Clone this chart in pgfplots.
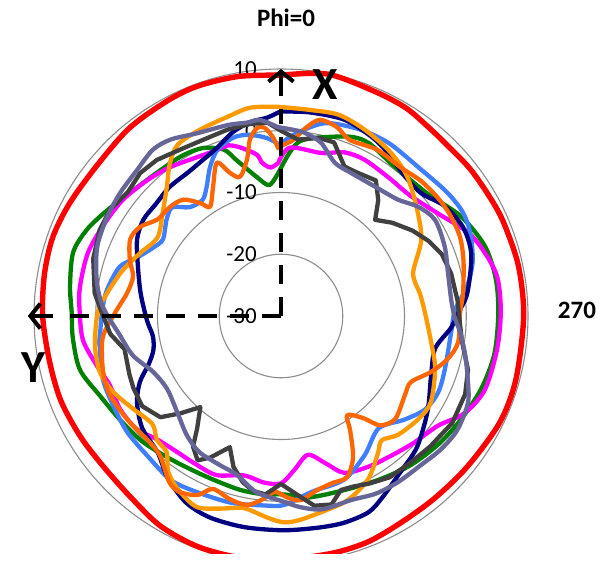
\documentclass[border=0pt]{standalone}
\usepackage{pgfplots}
\pgfplotsset{compat=1.18}
\usepgfplotslibrary{polar}
\usepackage{pgfplotstable}
\usetikzlibrary{arrows.meta}
\usepackage{fontspec}
\setmainfont{Carlito}

\definecolor{cred}{HTML}{FF0000}
\definecolor{cgreen}{HTML}{008000}
\definecolor{cmag}{HTML}{FF00FF}
\definecolor{cblue}{HTML}{3F7FFF}
\definecolor{cnavy}{HTML}{000080}
\definecolor{cgray}{HTML}{404040}
\definecolor{cslate}{HTML}{666699}
\definecolor{corange}{HTML}{FF9900}
\definecolor{cdorange}{HTML}{FF6600}
\definecolor{cgrid}{HTML}{8C8C8C}

% phi in degrees (0 = top, counter-clockwise, 270 = right), gain in dB
\pgfplotstableread{
phi db
0 9.0
10 9.4
20 9.6
28 9.4
39 9.1
51 8.5
62 8.8
71 9.1
80 8.9
90 8.6
101 8.2
111 8.2
121 7.9
130 7.7
140 8.1
150 9.2
160 9.7
170 9.7
180 9.5
192 9.3
201 9.2
210 8.7
220 8.6
231 8.8
244 9.4
255 9.4
270 9.3
282 9.3
293 9.1
300 8.9
308 8.8
316 8.6
322 8.8
329 9.3
337 9.4
349 9.9
360 9.0
}\tabred

\pgfplotstableread{
phi db
0.4 -6.3
5 -8.7
10 -7.1
16 -3.7
19 -1.5
25 0.0
32 0.5
41 0.7
51 1.6
59 3.0
66 4.4
73 5.2
82 4.5
89 3.9
96 3.9
105 3.7
114 2.0
123 1.0
132 0.3
142 -0.7
154 -1.3
166 -1.1
174 -1.0
181 -1.1
189 -0.3
200 0.0
211 0.9
221 2.0
231 2.9
240 3.6
250 4.5
260 5.1
271 5.2
280 5.3
289 4.9
299 3.3
310 0.9
323 0.4
333 1.4
339 1.1
349 -0.6
354 -1.6
357 -3.5
360.4 -6.3
}\tabgreen

\pgfplotstableread{
phi db
1 -5.2
4 -5.9
7 -5.0
8.5 -3.6
13 -2.1
17 -1.1
21 -1.2
28 -0.9
37 0.1
45 0.9
54 1.8
63 2.3
72 2.9
82 2.9
89 2.6
97 2.3
105 0.9
112 -0.1
120 0.1
128 -0.3
135 -1.7
143 -2.3
151 -2.3
158 -2.2
167 -3.5
174 -2.9
180 -2.9
185 -5.0
191 -7.1
197 -5.0
202 -2.6
210 -1.8
217 -1.3
226 -0.3
235 1.0
242 3.6
250 5.1
261 5.4
271 5.6
280 5.6
287 4.6
294 3.2
303 0.4
313 -1.4
322 -1.6
332 -1.3
339 -1.6
346 -2.8
357 -2.7
361 -5.2
}\tabmag

\pgfplotstableread{
phi db
0.3 -2.3
4.5 -1.1
10 -0.2
15 -0.1
21 -1.2
25.5 -3.3
30 -5.9
34 -7.3
40 -7.0
45 -5.1
50 -5.8
57 -7.2
62 -6.5
68 -4.8
73 -2.7
81.5 -1.5
89 -1.0
99 -0.3
109.5 0.6
118 0.8
127 1.2
136 1.3
146 2.0
154.5 1.6
165 1.3
175 0.8
181 0.6
190 -1.1
201 -1.6
211 -3.7
221 -5.9
230 -3.9
237 -2.2
244 -1.7
252 -2.1
265 -2.3
272 -1.8
279 0.5
286 2.3
294 3.5
300 3.9
307 3.5
317 2.8
328 3.0
337 2.8
346 2.2
351 1.0
357 -0.9
360.3 -2.3
}\tabblue

\pgfplotstableread{
phi db
0.3 3.1
4 2.2
9 1.8
14.6 0.8
21 -0.9
28 -1.9
33 -2.3
41 -2.4
48 -2.8
55 -2.8
62 -3.6
71 -5.5
81 -7.0
92 -8.3
99 -9.0
105 -8.6
110 -7.2
115 -4.8
121 -2.8
129 -1.1
138 -0.2
145 2.0
153 3.9
160.5 4.6
170 4.7
180.5 4.7
190 4.8
197 5.0
204 4.8
209 3.7
217 1.9
226 0.6
237 -1.7
248 -3.8
258 -4.5
266 -2.4
271 -1.3
277 0.4
288 2.4
296 2.8
304 1.9
311 0.2
318 0.2
327 1.6
333 2.5
342 3.4
352 3.3
360.3 3.1
}\tabnavy

\pgfplotstableread{
phi db
0 0.0
4 1.4
9 1.5
16 1.4
24 1.2
31 1.5
38.5 2.3
44.6 2.5
51 1.9
58 2.6
64.6 2.5
73 1.8
83 0.4
89 -1.0
96 -2.2
102 -4.1
111 -3.7
116 -3.4
123 -3.2
130 -4.5
134 -7.3
138.5 -10.3
143.4 -7.2
146 -4.5
150 -3.0
153.5 -4.4
158.7 -7.2
162.5 -4.4
167 -2.4
171 -1.3
175 -1.0
180 -2.8
185 -1.0
190 1.2
195 1.6
199 -0.2
203 0.0
208 0.7
214 1.5
222 1.7
229 2.1
238 2.7
247 2.4
254 1.5
262 -0.4
269 -1.1
275 -1.3
284 -1.6
291 -2.1
297 -3.2
303 -4.6
310 -6.5
315.6 -8.2
320 -5.5
325 -3.2
332 -3.7
337 -3.7
343 -0.6
348 -0.5
354.5 -1.3
360 0.0
}\tabgray

\pgfplotstableread{
phi db
1 0.6
6 1.9
10 1.8
15.5 2.1
25 2.6
32 3.7
37.6 4.0
44.6 3.2
52.6 2.8
60.4 2.4
69.4 1.8
79 0.4
87 -1.1
96.7 -3.7
105 -5.2
113.6 -7.4
122.6 -8.1
132.7 -7.1
141.7 -5.4
149 -4.3
157.7 -3.9
164.5 -3.3
172 -1.2
181 0.1
185.7 1.1
192 2.0
201 1.9
208 2.6
215 2.9
223 3.1
230 3.7
237 4.0
245 3.4
251 2.0
258 0.5
265 -0.9
269 -1.8
275 -2.3
284 -2.1
293 -1.2
302 -0.6
308.5 -1.6
315 -3.3
324 -4.1
334 -4.2
340.6 -3.7
347 -1.2
352.5 -0.1
356 0.2
361 0.6
}\tabslate

\pgfplotstableread{
phi db
1 3.9
8.5 4.1
15 3.4
23.5 2.9
31 2.4
36 0.6
41.5 -2.1
49 -4.6
57.5 -6.3
66 -5.0
74 -3.3
82.5 -1.6
89 -0.3
99 0.5
107 0.7
114 -0.1
122 -1.7
130 -2.8
135 -1.6
140 -1.2
144 1.1
149 2.6
156 3.8
162 2.8
169 1.7
176 2.7
180.6 3.4
185 3.2
193 2.3
200 1.7
208 0.0
215 -2.7
219 -4.1
224.5 -3.0
233 -2.2
240 -2.0
251 -3.6
260 -5.3
271.6 -6.7
279 -7.2
288 -7.5
299 -4.0
311 -1.3
319 0.7
327 2.0
336 3.1
344 3.9
352 3.7
361 3.9
}\taborange

\pgfplotstableread{
phi db
1 -2.8
2.6 -1.0
5 0.6
7.3 0.7
10 -1.0
12.3 -4.1
16.4 -6.5
19.6 -5.4
22.7 -3.1
27.8 -6.4
33 -8.9
35.6 -7.5
40 -5.4
45.5 -4.8
52 -4.6
57.7 -3.0
63 -2.6
69.7 -3.9
75 -5.2
81.5 -4.8
89 -3.1
97 -0.9
107.5 0.2
115 0.5
124 0.0
132.6 -0.5
139 -0.1
146 2.4
150 2.9
155 2.0
158.5 0.1
164.4 0.8
169.8 1.1
174.4 -0.2
178 -1.5
182 -0.6
186 0.0
191.7 -1.2
197.3 -1.7
202.3 -1.8
207 -4.3
211.2 -8.4
213.7 -10.7
218.8 -8.8
222.2 -6.1
228 -5.1
237.5 -6.2
243 -6.4
249.5 -4.1
255.6 -2.1
261.6 -1.0
271 -1.0
277 -0.3
287 0.9
294 1.7
301 1.9
307 1.8
314 1.5
321 0.9
330 1.1
338.6 0.6
343.5 1.9
348.7 2.4
352.2 0.9
356 -1.4
359.3 -2.3
361 -2.8
}\tabdorange

\begin{document}
\begin{tikzpicture}
\path[use as bounding box] (-281pt,-250pt) rectangle (329pt,316pt);
\begin{scope}
\clip (-281pt,-237pt) rectangle (329pt,316pt);
\begin{polaraxis}[
  at={(0pt,0pt)}, anchor=center,
  scale only axis, width=494pt, height=494pt,
  xmin=90, xmax=450, ymin=0, ymax=40,
  clip=false,
  xtick=\empty,
  ytick={0,10,20,30,40},
  yticklabels={-30,-20,-10,0,10},
  ymajorgrids,
  grid style={color=cgrid, line width=1.1pt},
  axis line style={draw=none},
  major tick length=0pt,
  yticklabel style={font=\fontsize{23}{23}\selectfont, anchor=east, inner sep=0pt, xshift=-24pt},
  every axis plot/.append style={line join=round, line cap=round},
]
\addplot[cred, line width=5.4pt, smooth] table[x expr=\thisrow{phi}+90, y expr=\thisrow{db}+30] {\tabred};
\addplot[cgreen, line width=4.3pt, smooth] table[x expr=\thisrow{phi}+90, y expr=\thisrow{db}+30] {\tabgreen};
\addplot[cmag, line width=4.3pt, smooth] table[x expr=\thisrow{phi}+90, y expr=\thisrow{db}+30] {\tabmag};
\addplot[cblue, line width=4.3pt, smooth] table[x expr=\thisrow{phi}+90, y expr=\thisrow{db}+30] {\tabblue};
\addplot[cnavy, line width=4.3pt, smooth] table[x expr=\thisrow{phi}+90, y expr=\thisrow{db}+30] {\tabnavy};
\addplot[corange, line width=4.3pt, smooth] table[x expr=\thisrow{phi}+90, y expr=\thisrow{db}+30] {\taborange};
\addplot[cdorange, line width=4.3pt, smooth] table[x expr=\thisrow{phi}+90, y expr=\thisrow{db}+30] {\tabdorange};
\addplot[cgray, line width=4.3pt] table[x expr=\thisrow{phi}+90, y expr=\thisrow{db}+30] {\tabgray};
\addplot[cslate, line width=4.3pt, smooth] table[x expr=\thisrow{phi}+90, y expr=\thisrow{db}+30] {\tabslate};
% dashed X and Y arrows
\addplot[black, line width=4.6pt, line cap=butt, dash pattern=on 19pt off 13pt] coordinates {(90,0) (90,33.6)};
\addplot[black, line width=4.6pt, line cap=butt, dash pattern=on 19pt off 13pt] coordinates {(180,0) (180,34.8)};
\addplot[black, line width=4.6pt, line cap=butt, -{Straight Barb[length=10pt,width=25pt,line width=4pt]}] coordinates {(90,35.6) (90,40)};
\addplot[black, line width=4.6pt, line cap=butt, -{Straight Barb[length=10pt,width=25pt,line width=4pt]}] coordinates {(180,36.9) (180,41)};
\end{polaraxis}
\end{scope}
\node[font=\bfseries\fontsize{25}{25}\selectfont] at (5pt,298pt) {Phi=0};
\node[font=\bfseries\fontsize{25}{25}\selectfont] at (296pt,6pt) {270};
\node[font=\bfseries\fontsize{46}{46}\selectfont] at (44pt,231pt) {X};
\node[font=\bfseries\fontsize{46}{46}\selectfont] at (-248pt,-52pt) {Y};
\end{tikzpicture}
\end{document}
